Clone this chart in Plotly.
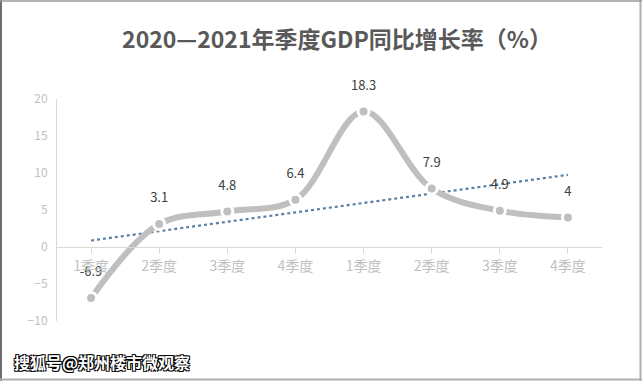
import numpy as np
import plotly.graph_objects as go

categories = ["1季度", "2季度", "3季度", "4季度", "1季度", "2季度", "3季度", "4季度"]
values = [-6.9, 3.1, 4.8, 6.4, 18.3, 7.9, 4.9, 4]
labels = ["-6.9", "3.1", "4.8", "6.4", "18.3", "7.9", "4.9", "4"]
y_ticks = [-10, -5, 0, 5, 10, 15, 20]
title = "2020—2021年季度GDP同比增长率（%）"
watermark = "搜狐号@郑州楼市微观察"

xs = list(range(len(values)))
coef = np.polyfit(np.arange(1, len(values) + 1), values, 1)
trend = list(np.polyval(coef, np.arange(1, len(values) + 1)))

font_cjk = "Noto Sans CJK SC, Microsoft YaHei, sans-serif"

fig = go.Figure()
fig.add_trace(go.Scatter(
    x=xs, y=trend, mode="lines",
    line=dict(color="#5A7FA5", width=2.2, dash="dot"),
    hoverinfo="skip", showlegend=False,
))
fig.add_trace(go.Scatter(
    x=xs, y=values, mode="lines+markers",
    line=dict(color="#BFBFBF", width=6, shape="spline", smoothing=1.0),
    marker=dict(size=11, color="#BFBFBF", line=dict(color="white", width=3)),
    showlegend=False,
))
# data labels (invisible big markers push the text further above the points)
fig.add_trace(go.Scatter(
    x=xs, y=values, mode="markers+text",
    marker=dict(size=28, color="rgba(0,0,0,0)"),
    text=labels, textposition="top center",
    textfont=dict(color="#404040", size=13, family=font_cjk),
    cliponaxis=False, hoverinfo="skip",
    showlegend=False,
))

W, H = 642, 381
L, R, T, B = 57, 40, 99, 60
pw, ph = W - L - R, H - T - B


def px_x(x):
    return (x - L) / pw


def px_y(y):
    return (H - B - y) / ph


fig.update_layout(
    width=W, height=H,
    margin=dict(l=L, r=R, t=T, b=B),
    paper_bgcolor="white", plot_bgcolor="white",
    font=dict(family=font_cjk),
    title=dict(text="<b>" + title + "</b>", x=337 / W, xanchor="center",
               y=1 - 40 / H, yanchor="middle",
               font=dict(size=23, color="#595959", family=font_cjk)),
    xaxis=dict(
        range=[-0.5, len(values) - 0.5],
        tickmode="array", tickvals=xs, ticktext=categories,
        anchor="free", position=1 / 3,
        showline=True, linecolor="#D9D9D9", linewidth=1,
        ticks="outside", tickson="boundaries", ticklen=6, tickcolor="#D9D9D9",
        showgrid=False, zeroline=False,
        tickfont=dict(size=14, color="#BFBFBF", family=font_cjk),
    ),
    yaxis=dict(
        range=[-10, 20], tickvals=y_ticks,
        showline=True, linecolor="#D9D9D9", linewidth=1,
        showgrid=False, zeroline=False, ticks="",
        tickfont=dict(size=12, color="#BFBFBF", family=font_cjk),
        ticklabelstandoff=6,
    ),
)

# outer border of the picture
fig.add_shape(type="line", xref="paper", yref="paper",
              x0=px_x(1), x1=px_x(1), y0=px_y(0), y1=px_y(H),
              line=dict(color="#6E6E6E", width=2), layer="above")
fig.add_shape(type="line", xref="paper", yref="paper",
              x0=px_x(W - 1.5), x1=px_x(W - 1.5), y0=px_y(0), y1=px_y(H),
              line=dict(color="#B0B0B0", width=2), layer="above")
fig.add_shape(type="line", xref="paper", yref="paper",
              x0=px_x(0), x1=px_x(W), y0=px_y(H - 1.5), y1=px_y(H - 1.5),
              line=dict(color="#B0B0B0", width=2), layer="above")
fig.add_shape(type="line", xref="paper", yref="paper",
              x0=px_x(0), x1=px_x(W), y0=px_y(1), y1=px_y(1),
              line=dict(color="#9A9A9A", width=1.5), layer="above")

fig.add_annotation(
    text="<b>" + watermark + "</b>", xref="paper", yref="paper",
    x=px_x(12), y=px_y(362), xanchor="left", yanchor="middle",
    showarrow=False,
    font=dict(size=16, color="white", family=font_cjk,
              shadow="1px 1px 0 #000, -1px -1px 0 #000, 1px -1px 0 #000, -1px 1px 0 #000"),
)

fig.write_html("out.html", config={"displayModeBar": False},
               post_script="document.body.style.margin='0';document.body.style.padding='0';")
